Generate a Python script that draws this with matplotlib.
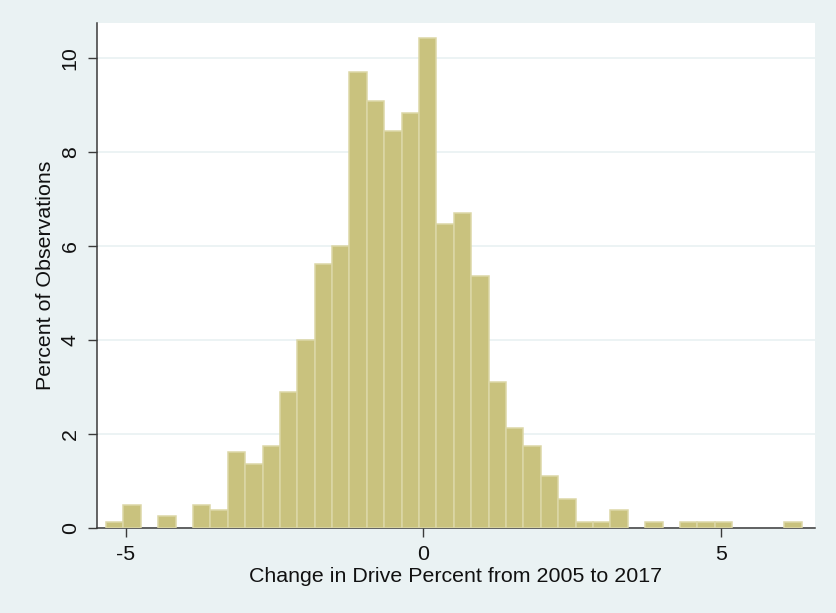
import numpy as np
import matplotlib
matplotlib.use('Agg')
import matplotlib.pyplot as plt

# Histogram data (percent of observations per bin)
bin_start = -5.336
bin_width = 0.2923
percent = [0.12, 0.49, 0.0, 0.25, 0.0, 0.49, 0.37, 1.60, 1.36, 1.74,
           2.88, 4.00, 5.62, 5.99, 9.71, 9.08, 8.45, 8.83, 10.44, 6.47,
           6.71, 5.35, 3.11, 2.11, 1.74, 1.10, 0.61, 0.12, 0.12, 0.37,
           0.0, 0.12, 0.0, 0.12, 0.12, 0.12, 0.0, 0.0, 0.0, 0.12]
x_ticks = [-5, 0, 5]
y_ticks = [0, 2, 4, 6, 8, 10]

BG = '#eaf2f3'
BAR = '#c9c27e'
BAR_EDGE = '#dcd7a7'
AXIS = '#3a3a3a'

plt.rcParams['font.family'] = ['Liberation Sans', 'DejaVu Sans']

fig = plt.figure(figsize=(8.37, 6.13), dpi=100, facecolor=BG)
ax = fig.add_axes([97 / 837, 1 - 527.5 / 613, (815 - 97) / 837, (527.5 - 23) / 613])
ax.set_facecolor('white')

# bars (skip empty bins, Stata does not draw them)
pct = np.array(percent)
lefts = bin_start + bin_width * np.arange(len(pct))
keep = pct > 0
ax.bar(lefts[keep], pct[keep], width=bin_width, align='edge',
       color=BAR, edgecolor=BAR_EDGE, linewidth=1.1, zorder=3)

ax.set_xlim(-5.487, 6.58)
ax.set_ylim(0, 10.75)

ax.set_yticks(y_ticks)
ax.set_xticks(x_ticks)
ax.set_xticklabels([str(v) for v in x_ticks])
ax.set_yticklabels([str(v) for v in y_ticks], rotation=90, va='center')
ax.grid(axis='y', color=BG, linewidth=1.3, zorder=0)
ax.set_axisbelow(True)

for s in ['top', 'right']:
    ax.spines[s].set_visible(False)
for s in ['left', 'bottom']:
    ax.spines[s].set_color(AXIS)
    ax.spines[s].set_linewidth(1.1)

ax.tick_params(axis='both', direction='out', length=6.5, width=1.0,
               color=AXIS, labelsize=15.4, labelcolor='#111111', pad=6)

ax.set_xlabel('Change in Drive Percent from 2005 to 2017', fontsize=15.4,
              color='#111111', labelpad=2)
ax.set_ylabel('Percent of Observations', fontsize=15.4, color='#111111',
              labelpad=4)

plt.savefig('out.png', dpi=100, facecolor=BG)
plt.close()
